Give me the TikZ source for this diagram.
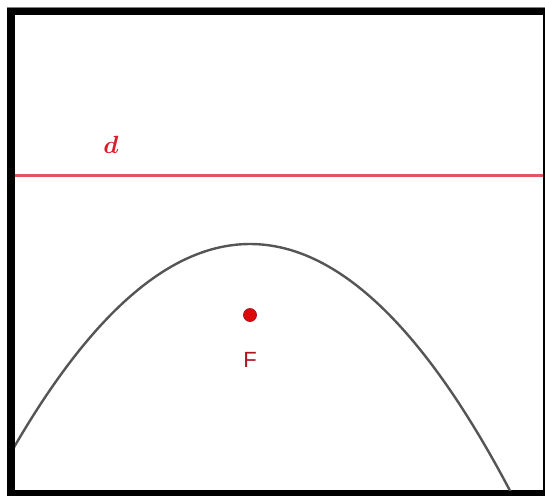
\documentclass[tikz,border=0pt]{standalone}
\usepackage{fontspec}
\usepackage{amsmath}
\definecolor{lred}{RGB}{230,85,95}
\definecolor{dred}{RGB}{215,30,40}
\definecolor{pred}{RGB}{220,10,10}
\definecolor{fred}{RGB}{175,20,30}
\definecolor{curvegray}{RGB}{85,85,85}
\newfontfamily\labelsans{Liberation Sans}
\begin{document}
\begin{tikzpicture}[x=1pt,y=-1pt,
  frame/.style={fill=black},
  dline/.style={draw=lred,line width=2.2pt},
  curve/.style={draw=curvegray,line width=2.4pt}]
\useasboundingbox (0,0) rectangle (545,496);
\fill[white] (0,0) rectangle (545,496);
% frame
\draw[gray,line width=1pt] (7,7.5) -- (545,7.5);
\fill[frame] (7,8) rectangle (545,15);
\fill[frame] (7,8) rectangle (15,496);
\fill[frame] (7,490) rectangle (545,496);
\fill[frame] (543,8) rectangle (545,496);
% directrix
\draw[dline] (15,175.5) -- (543,175.5);
\node[text=dred,font=\fontsize{25}{25}\selectfont] (dlab) at (111,145) {$\boldsymbol{d}$};
% parabola
\begin{scope}
\clip (15,15) rectangle (543,490);
\draw[curve] plot[domain=5:525,samples=120,smooth] (\x,{244+((\x-250)/16.553)^2});
\end{scope}
% focus
\node[circle,fill=pred,draw=fred,line width=0.8pt,inner sep=0pt,minimum size=13pt] (F) at (250,315) {};
\node[text=fred,font=\labelsans\fontsize{22}{22}\selectfont] (Flab) at (250,360) {F};
\end{tikzpicture}
\end{document}
